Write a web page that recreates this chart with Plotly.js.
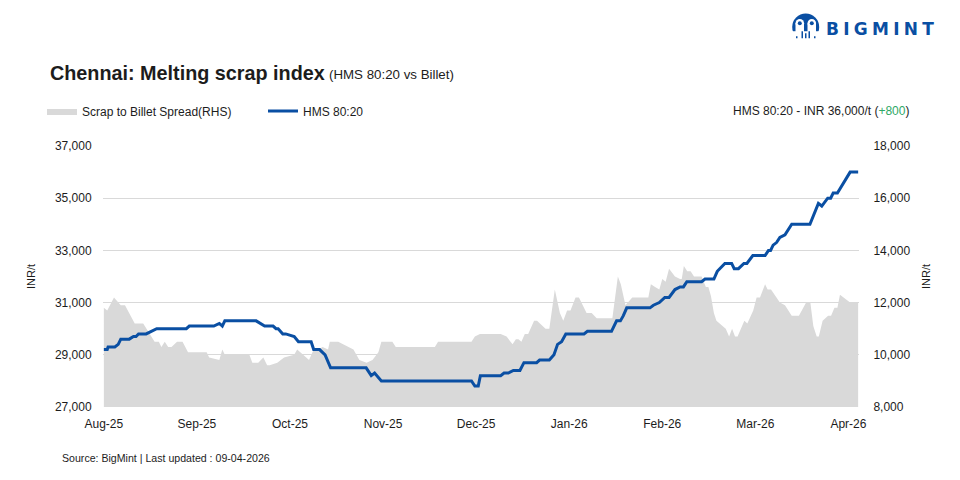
<!DOCTYPE html>
<html><head><meta charset="utf-8">
<script src="https://cdn.plot.ly/plotly-3.0.1.min.js"></script>
<style>html,body{margin:0;padding:0;background:#fff}#c{width:960px;height:480px}</style></head>
<body><div id="c"></div>
<script>
const tickDays = [0,22,44,66,88,110,132,154,176];
const tickLabels = ['Aug-25','Sep-25','Oct-25','Nov-25','Dec-25','Jan-26','Feb-26','Mar-26','Apr-26'];
const leftTicks = [27000,29000,31000,33000,35000,37000];
const rightTicks = [8000,10000,12000,14000,16000,18000];

const hmsDays = [0,0.8,1,2.6,3.4,4,6,7,7.6,8.2,10,12.5,19.5,20.2,26,27.3,28,28.6,36,38,40,40.7,41.2,42.3,43,45,46,49,49.6,51,52.3,53.6,62,63.2,64,65.6,
 86.9,87.7,88.5,89,93.8,94.6,95.6,96.8,98.35,99.3,102.3,103,105.3,106.4,107.25,108.2,109.2,113.5,114.3,120,121.2,122.1,122.8,123.6,129.1,129.9,131.3,132.6,133.6,135,136.2,137,137.8,141.3,142.1,144.2,145,146.8,148.4,149,150,151.3,152,153.4,156.3,157.1,157.6,158.2,159,159.8,161,162.6,166.9,167.7,168.9,169.7,171.1,171.8,172.4,173.4,174.2,176.4,178.3];
const hmsValues = [29200,29200,29300,29300,29400,29600,29600,29700,29700,29800,29800,30000,30000,30100,30100,30200,30100,30300,30300,30100,30100,30000,30000,29800,29800,29700,29500,29500,29200,29200,29000,28500,28500,28200,28300,28000,
 28000,27800,27800,28200,28200,28300,28300,28400,28400,28700,28700,28800,28800,29000,29400,29500,29800,29800,29900,29900,30300,30300,30500,30800,30800,30900,31000,31200,31200,31500,31600,31600,31800,31800,31900,31900,32200,32500,32500,32300,32300,32500,32500,32800,32800,33000,33000,33200,33300,33500,33600,34000,34000,34300,34800,34700,35000,35000,35200,35200,35400,36000,36000];

const spreadDays = [0,0.8,2.4,4,5,7.3,9.3,12,13,13.6,14.4,15.2,16,17.3,18.6,19.9,24.3,24.9,27.3,28,28.6,34.4,35.1,36.5,37.7,38.6,39.2,41,42.6,45,45.7,47.1,48.5,49.6,50.7,51.7,53,53.4,55.4,59,60.4,62.1,63.5,64.9,65.6,68.2,69,78.25,79,86.9,87.7,88.9,93.8,95.2,96.6,97.4,98,98.7,99.5,100.3,101.7,102.4,104.4,105.3,106.6,107.8,108.6,109.5,110.3,111.5,112.3,114.1,115.3,116.5,120.2,121.5,122.2,123.3,124.9,128.7,129.3,130.3,131.3,132,132.8,133.6,135,136.2,136.6,137.1,137.9,138.7,139.5,141.3,142.3,142.9,143.5,144.2,144.8,147,147.8,148.5,149.2,149.8,151.4,152.1,153.5,154.3,155.1,156.3,156.9,157.7,159.8,161,162.6,164.3,166,167,167.7,168.5,169,169.9,171.2,171.9,172.7,173.4,174,176.4,178.3];
const spreadValues = [11800,11700,12200,11900,11900,11200,11200,10500,10500,10300,10500,10300,10300,10500,10500,10100,10100,9900,9800,10200,10000,10000,9700,9700,9900,9600,9600,9700,9900,10000,10200,10000,9800,10200,10200,10300,10200,10500,10500,10200,9800,9700,9800,10100,10500,10500,10300,10300,10500,10500,10700,10800,10800,10700,10400,10600,10600,10500,10800,10800,11300,11300,11000,11000,12500,11600,11300,11700,11700,12200,12200,11600,11600,11400,11400,13000,12700,11900,12200,12200,12700,12600,12500,12900,12800,13300,13000,12900,12900,13400,13200,13200,13000,13000,12600,12600,12250,11600,11300,11000,10700,11000,10700,10700,11300,11200,11700,12200,12200,12700,12500,12500,12000,11900,11500,11500,12000,12000,11100,10700,10700,11300,11500,11500,11800,11800,12300,12000,12000];

const L=103,R=859,T=146,B=407.5;
const px=x=>(x-L)/(R-L), py=y=>(B-y)/(B-T);
const TXT='#1c1c1c', FONT='"Liberation Sans", Arial, sans-serif', BLUE='#0a4fa3';
const note=(x,y,text,size,anchor,extra)=>Object.assign({xref:'paper',yref:'paper',x:px(x),y:py(y),text,showarrow:false,xanchor:anchor||'left',yanchor:'middle',font:{size,color:TXT,family:FONT},borderpad:0,borderwidth:0},extra||{});
const disc=(cx,cy,r,color)=>({type:'circle',xref:'paper',yref:'paper',x0:px(cx-r),x1:px(cx+r),y0:py(cy+r),y1:py(cy-r),fillcolor:color,line:{width:0},layer:'above'});
const box=(x0,y0,x1,y1,color)=>({type:'rect',xref:'paper',yref:'paper',x0:px(x0),x1:px(x1),y0:py(y1),y1:py(y0),fillcolor:color,line:{width:0},layer:'above'});

const traces=[
 {name:'Scrap to Billet Spread(RHS)',x:spreadDays,y:spreadValues,type:'scatter',mode:'lines',fill:'tozeroy',fillcolor:'#d9d9d9',line:{width:0,color:'#d9d9d9'},yaxis:'y',hoverinfo:'skip'},
 {name:'HMS 80:20',x:hmsDays,y:hmsValues,type:'scatter',mode:'lines',line:{width:3,color:BLUE,shape:'linear'},yaxis:'y2',hoverinfo:'skip'}
];
const layout={
 width:960,height:480,margin:{l:L,r:960-R,t:T,b:480-B,pad:0},
 paper_bgcolor:'#fff',plot_bgcolor:'#fff',font:{family:FONT,size:12,color:TXT},
 showlegend:true,
 legend:{orientation:'h',x:px(42),y:py(111),xanchor:'left',yanchor:'middle',font:{size:12,color:TXT,family:FONT},itemwidth:30,entrywidth:176,entrywidthmode:'pixels',traceorder:'normal',bgcolor:'rgba(0,0,0,0)',itemclick:false,itemdoubleclick:false},
 xaxis:{range:[-0.2,178.5],tickmode:'array',tickvals:tickDays,ticktext:tickLabels,showgrid:false,zeroline:false,showline:false,ticks:'outside',ticklen:6,tickcolor:'#fff',tickfont:{size:12,color:TXT}},
 yaxis:{side:'right',range:[8000,18000],tickmode:'array',tickvals:rightTicks,ticktext:rightTicks.map(v=>v.toLocaleString('en-US')),showgrid:true,gridcolor:'#d9d9d9',gridwidth:1,zeroline:false,showline:false,ticks:'outside',ticklen:11,tickcolor:'#fff',tickfont:{size:12,color:TXT},title:{text:'INR/t',font:{size:11,color:TXT},standoff:12}},
 yaxis2:{side:'left',overlaying:'y',range:[27000,37000],tickmode:'array',tickvals:leftTicks,ticktext:leftTicks.map(v=>v.toLocaleString('en-US')),showgrid:false,zeroline:false,showline:false,ticks:'outside',ticklen:8,tickcolor:'#fff',tickfont:{size:12,color:TXT},title:{text:'INR/t',font:{size:11,color:TXT},standoff:17}},
 annotations:[
  note(50,73,'<b>Chennai: Melting scrap index</b>',19.8),
  note(329,74,'(HMS 80:20 vs Billet)',13.3),
  note(909,111,'HMS 80:20 - INR 36,000/t (<span style="color:#2fa866">+800</span>)',12,'right'),
  note(62,459,'Source: BigMint | Last updated : 09-04-2026',10.6),
  note(826,29,'<b>B\u2005I\u2005G\u2005M\u2005I\u2005N\u2005T</b>',17,'left',{font:{size:17,color:BLUE,family:'"DejaVu Sans", sans-serif'}})
 ],
 shapes:[
  disc(805.7,26.7,13.5,BLUE),
  box(792,31,819,41,'#fff'),
  disc(799.8,23,4.3,'#fff'),disc(811.8,23,4.3,'#fff'),
  box(795.5,23,804,33,'#fff'),box(807.5,23,816,33,'#fff'),
  disc(799.8,23,2,BLUE),disc(811.8,23,2,BLUE),
  box(801.5,31,803,38,BLUE),box(808.5,31,810,38,BLUE),box(805,33,806.5,38,BLUE),
  box(796,36,797.5,38,BLUE),box(814,36,815.5,38,BLUE)
 ]
};
Plotly.newPlot('c',traces,layout,{displayModeBar:false,staticPlot:true});
</script></body></html>
